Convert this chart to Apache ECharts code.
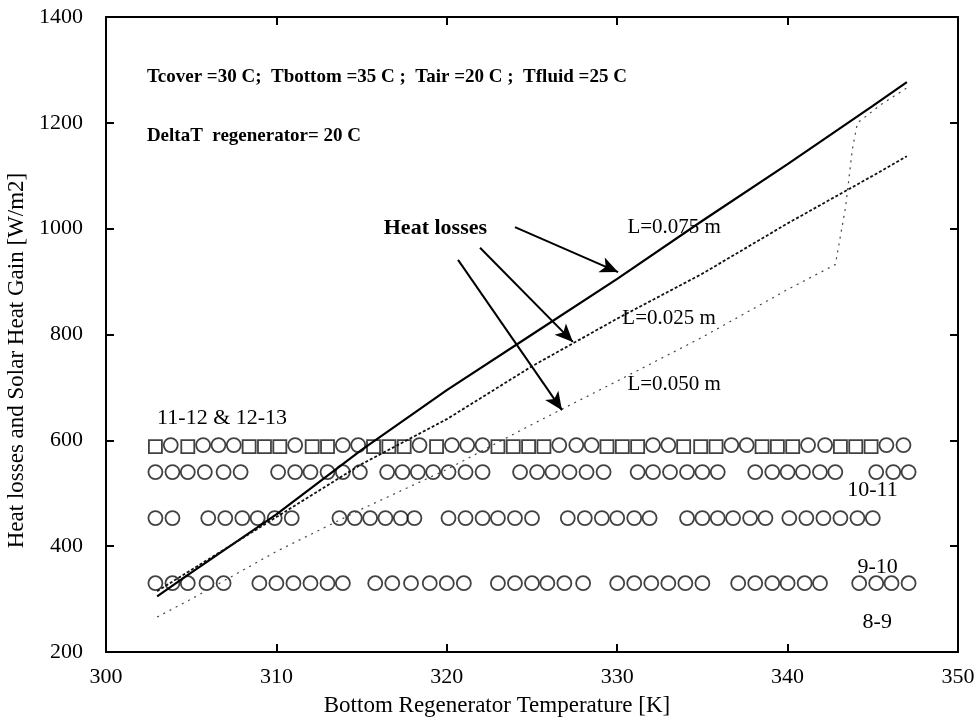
<!DOCTYPE html>
<html lang="en">
<head>
    <meta charset="UTF-8">
    <title>Heat losses and solar heat gain</title>
    <style>
        body{ margin: 0; background: #fff; }
        #main{ width: 978px; height: 721px; }
    </style>
</head>
<body>
    <div id="main"></div>
    <script src="https://cdn.jsdelivr.net/npm/echarts/dist/echarts.min.js"></script>
    <script>
    // heat loss curves (bottom regenerator temperature in K -> W/m2)
    const tempX = [303, 305, 310, 315, 320, 325, 330, 335, 340, 345, 347];
    const lossL075 = [305, 350, 460, 582, 695, 800, 905, 1015, 1122, 1232, 1277];
    const lossL025 = [315, 355, 455, 555, 640, 740, 830, 915, 1010, 1100, 1137];
    const tempX050 = [303, 305, 310, 315, 320, 325, 330, 335, 340, 342.8, 343.4, 343.8, 344.1, 345.5, 347];
    const lossL050 = [266, 300, 390, 470, 545, 630, 712, 795, 885, 932, 1040, 1150, 1200, 1235, 1266];

    // solar heat gain per hour (constant level, markers at these temperatures)
    const gain1112 = 591, gain1213 = 588, gain1011 = 540, gain910 = 453, gain89 = 330;
    const x1112 = [303.8, 305.7, 306.6, 307.5, 311.1, 313.9, 314.8, 318.4, 320.3, 321.2, 322.1, 326.6, 327.6, 328.5,
        332.1, 333.0, 336.7, 337.6, 341.2, 342.2, 345.8, 346.8];
    const x1213 = [302.9, 304.8, 308.4, 309.3, 310.2, 312.1, 313.0, 315.7, 316.6, 317.5, 319.4, 323.0, 323.9, 324.8,
        325.7, 329.4, 330.3, 331.2, 333.9, 334.9, 335.8, 338.5, 339.4, 340.3, 343.1, 344.0, 344.9];
    const x1011 = [302.9, 303.9, 304.8, 305.8, 306.9, 307.9, 310.1, 311.1, 312.0, 313.0, 313.9, 314.9,
        316.5, 317.4, 318.3, 319.2, 320.1, 321.1, 322.1, 324.3, 325.3, 326.2, 327.2, 328.2, 329.2,
        331.2, 332.1, 333.1, 334.1, 335.0, 335.9, 338.1, 339.1, 340.0, 340.9, 341.9, 342.8, 345.2, 346.2, 347.1];
    const x910 = [302.9, 303.9, 306.0, 307.0, 308.0, 308.9, 309.9, 310.9, 313.7, 314.6, 315.5, 316.4, 317.3, 318.1,
        320.1, 321.1, 322.1, 323.0, 324.0, 325.0, 327.1, 328.1, 329.1, 330.0, 331.0, 331.9,
        334.1, 335.0, 335.9, 336.8, 337.8, 338.7, 340.1, 341.1, 342.1, 343.1, 344.1, 345.0];
    const x89 = [302.9, 303.9, 304.8, 305.9, 306.9, 309.0, 310.0, 311.0, 312.0, 313.0, 313.9,
        315.8, 316.8, 317.9, 319.0, 320.0, 321.0, 323.0, 324.0, 325.0, 325.9, 326.9, 328.0,
        330.0, 331.0, 332.0, 333.0, 334.0, 335.0, 337.1, 338.1, 339.1, 340.0, 341.0, 341.9,
        344.2, 345.2, 346.1, 347.1];

    // annotation texts and arrows, in data units
    const notes = [
        ['Tcover =30 C;  Tbottom =35 C ;  Tair =20 C ;  Tfluid =25 C', 302.4, 1287, 'bold', 19],
        ['DeltaT  regenerator= 20 C', 302.4, 1175, 'bold', 19],
        ['Heat losses', 316.3, 1001, 'bold', 22],
        ['L=0.075 m', 330.6, 1003, 'normal', 21],
        ['L=0.025 m', 330.3, 831, 'normal', 21],
        ['L=0.050 m', 330.6, 705, 'normal', 21],
        ['11-12 & 12-13', 303.0, 642, 'normal', 22],
        ['10-11', 343.5, 506, 'normal', 22],
        ['9-10', 344.1, 361, 'normal', 22],
        ['8-9', 344.4, 257, 'normal', 22]
    ];
    const arrows = [
        [[324.0, 1003], [330.05, 918]],
        [[321.95, 964], [327.4, 786]],
        [[320.66, 941], [326.76, 657]]
    ];

    const serif = '"Liberation Serif", "Times New Roman", serif';
    const pair = (xs, ys) => xs.map((x, i) => [x, ys[i]]);
    const row = (xs, v) => xs.map((x) => [x, v]);
    const ring = { color: 'rgba(0,0,0,0)', borderColor: '#111', borderWidth: 1.8 };

    function markers(data, symbol, size) {
        return { type: 'scatter', data: data, symbol: symbol, symbolSize: size,
            itemStyle: ring, silent: true, z: 3 };
    }

    const axisBase = {
        axisLine: { show: true, onZero: false, lineStyle: { color: '#000', width: 2 } },
        axisTick: { show: true, inside: true, length: 8, lineStyle: { color: '#000', width: 2 } },
        splitLine: { show: false }
    };
    const plain = (v) => String(v);

    const myChart = echarts.init(document.getElementById('main'));
    myChart.setOption({
        animation: false,
        backgroundColor: '#fff',
        grid: { left: 106, right: 20, top: 17, bottom: 69, containLabel: false, outerBoundsMode: 'none' },
        xAxis: [
            Object.assign({}, axisBase, {
                type: 'value', min: 300, max: 350, interval: 10, position: 'bottom',
                name: 'Bottom Regenerator Temperature [K]', nameLocation: 'middle', nameGap: 42,
                nameTextStyle: { fontFamily: serif, fontSize: 23, color: '#000', padding: [0, 70, 0, 0] },
                axisLabel: { fontFamily: serif, fontSize: 22, color: '#000', margin: 14, formatter: plain }
            }),
            Object.assign({}, axisBase, {
                type: 'value', min: 300, max: 350, interval: 10, position: 'top',
                axisLabel: { show: false }
            })
        ],
        yAxis: [
            Object.assign({}, axisBase, {
                type: 'value', min: 200, max: 1400, interval: 200, position: 'left',
                name: 'Heat losses and Solar Heat Gain [W/m2]', nameLocation: 'middle', nameGap: 66,
                nameTextStyle: { fontFamily: serif, fontSize: 23, color: '#000', padding: [0, 52, 0, 0] },
                axisLabel: { fontFamily: serif, fontSize: 22, color: '#000', margin: 23, formatter: plain }
            }),
            Object.assign({}, axisBase, {
                type: 'value', min: 200, max: 1400, interval: 200, position: 'right',
                axisLabel: { show: false }
            })
        ],
        series: [
            {
                name: 'L=0.075 m', type: 'line', data: pair(tempX, lossL075), showSymbol: false,
                lineStyle: { color: '#000', width: 2.2 }, z: 4,
                markLine: {
                    silent: true, symbol: ['none', 'arrow'], symbolSize: [12, 18],
                    label: { show: false },
                    lineStyle: { color: '#000', width: 2, type: 'solid' },
                    data: arrows.map((a) => [{ coord: a[0] }, { coord: a[1] }])
                }
            },
            {
                name: 'L=0.025 m', type: 'line', data: pair(tempX, lossL025), showSymbol: false,
                lineStyle: { color: '#111', width: 1.8, type: [3, 2] }, z: 4
            },
            {
                name: 'L=0.050 m', type: 'line', data: pair(tempX050, lossL050), showSymbol: false,
                lineStyle: { color: '#444', width: 1.2, type: [2, 5] }, z: 4
            },
            markers(row(x1213, gain1213), 'rect', 13),
            markers(row(x1112, gain1112), 'circle', 14),
            markers(row(x1011, gain1011), 'circle', 14),
            markers(row(x910, gain910), 'circle', 14),
            markers(row(x89, gain89), 'circle', 14)
        ]
    });

    // place the annotation texts from data coordinates
    myChart.setOption({
        graphic: notes.map(function (n) {
            const p = myChart.convertToPixel({ xAxisIndex: 0, yAxisIndex: 0 }, [n[1], n[2]]);
            return {
                type: 'text', x: p[0], y: p[1], z: 10,
                style: { text: n[0], fill: '#000', font: n[3] + ' ' + n[4] + 'px ' + serif,
                    textAlign: 'left', textVerticalAlign: 'middle' }
            };
        })
    });
    </script>
</body>
</html>
